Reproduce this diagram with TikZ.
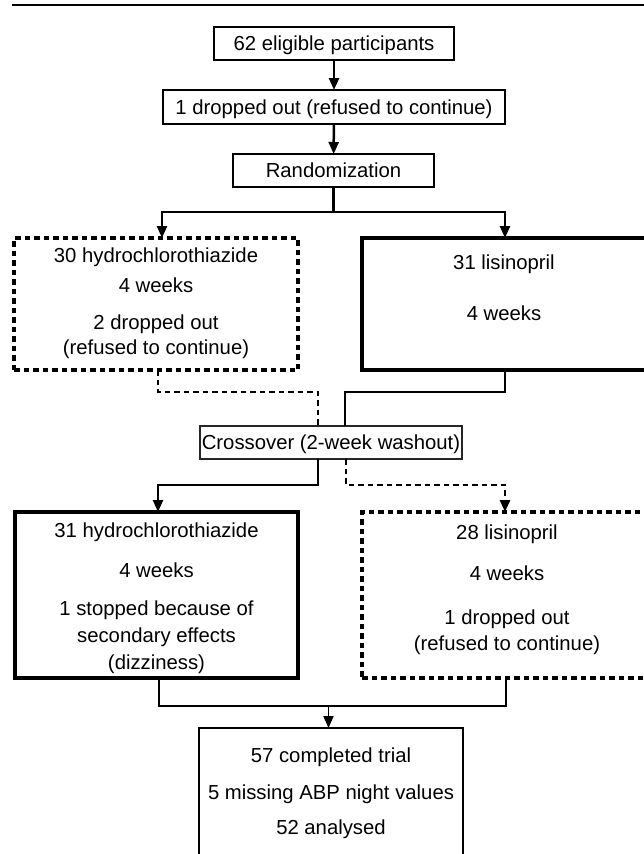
\documentclass[tikz,border=0pt]{standalone}
\usepackage{fontspec}
\setmainfont{Liberation Sans}
\usetikzlibrary{arrows.meta}
\begin{document}
\begin{tikzpicture}[x=1pt,y=-1pt,
  every node/.style={font=\fontsize{20.3}{24}\selectfont},
  box/.style={draw, rectangle, inner sep=0pt, outer sep=0pt, line width=2.3pt},
  thickbox/.style={box, line width=3.2pt},
  dashbox/.style={box, line width=3.2pt, dash pattern=on 5.5pt off 4pt},
  xbox/.style={box, line width=1.5pt, draw=black!85},
  txt/.style={anchor=base, inner sep=0pt},
  conn/.style={line width=2.5pt},
  dconn/.style={line width=2.8pt, dash pattern=on 5.5pt off 4pt},
  thinconn/.style={line width=1.8pt},
  arr/.style={-{Triangle[length=12pt,width=10pt]}}
]
\useasboundingbox (0,0) rectangle (644,854);
\draw[line width=1.8pt] (12,5) -- (644,5);

% boxes
\node[box, minimum width=240pt, minimum height=33pt] (b1) at (334,43.5) {};
\node[box, minimum width=342pt, minimum height=34pt] (b2) at (334,107) {};
\node[box, minimum width=201pt, minimum height=33pt] (b3) at (333.5,170.5) {};
\node[dashbox, minimum width=284pt, minimum height=132pt] (L1) at (156,304) {};
\node[thickbox, minimum width=284pt, minimum height=132pt] (R1) at (504,304) {};
\node[xbox, minimum width=262pt, minimum height=33pt] (X) at (331,442.5) {};
\node[thickbox, minimum width=283pt, minimum height=166pt] (L2) at (156.5,595) {};
\node[dashbox, minimum width=284pt, minimum height=166pt] (R2) at (504,595) {};
\node[box, line width=1.8pt, minimum width=264pt, minimum height=142pt] (B) at (331,799) {};

% texts
\node[txt] (t1) at (334,50.5) {62 eligible participants};
\node[txt] (t2) at (334,114) {1 dropped out (refused to continue)};
\node[txt] (t3) at (333.5,177.5) {Randomization};
\node[txt] (l1a) at (156,262) {30 hydrochlorothiazide};
\node[txt] (l1b) at (156,292) {4 weeks};
\node[txt] (l1c) at (156,329) {2 dropped out};
\node[txt] (l1d) at (156,354) {(refused to continue)};
\node[txt] (r1a) at (504,269) {31 lisinopril};
\node[txt] (r1b) at (504,320) {4 weeks};
\node[txt] (xt) at (331,449.5) {Crossover (2-week washout)};
\node[txt] (l2a) at (156.5,537) {31 hydrochlorothiazide};
\node[txt] (l2b) at (156.5,577) {4 weeks};
\node[txt] (l2c) at (156.5,615) {1 stopped because of};
\node[txt] (l2d) at (156.5,642) {secondary effects};
\node[txt] (l2e) at (156.5,669) {(dizziness)};
\node[txt] (r2a) at (507,539) {28 lisinopril};
\node[txt] (r2b) at (507,580) {4 weeks};
\node[txt] (r2c) at (507,624) {1 dropped out};
\node[txt] (r2d) at (507,650) {(refused to continue)};
\node[txt] (ba) at (331,762) {57 completed trial};
\node[txt] (bb) at (331,799) {5 missing ABP night values};
\node[txt] (bc) at (331,834) {52 analysed};

% top connectors
\draw[conn,arr] (b1) -- (b2);
\draw[conn,arr] (b2) -- (b3);
\coordinate (sp) at (333.5,212);
\coordinate (spL) at (162,212);
\coordinate (spR) at (505,212);
\draw[conn] (b3.south) -- (sp);
\draw[conn,arr] (sp) -- (spL) -- (spL |- L1.north);
\draw[conn,arr] (sp) -- (spR) -- (spR |- R1.north);

% to crossover
\coordinate (d1) at (158,392);
\coordinate (d2) at (318,392);
\draw[dconn] (d1 |- L1.south) -- (d1) -- (d2) -- (d2 |- X.north);
\coordinate (s1) at (505,392);
\coordinate (s2) at (345,392);
\draw[conn] (s1 |- R1.south) -- (s1) -- (s2) -- (s2 |- X.north);

% from crossover
\coordinate (e1) at (318,485);
\coordinate (e2) at (158,485);
\draw[conn,arr] (e1 |- X.south) -- (e1) -- (e2) -- (e2 |- L2.north);
\coordinate (f1) at (346,485);
\coordinate (f2) at (505,485);
\draw[dconn,arr] (f1 |- X.south) -- (f1) -- (f2) -- (f2 |- R2.north);

% merge
\coordinate (m1) at (159,706);
\coordinate (m2) at (506,706);
\coordinate (mc) at (328.5,706);
\draw[thinconn] (m1 |- L2.south) -- (m1) -- (m2) -- (m2 |- R2.south);
\draw[thinconn,arr] (mc) -- (mc |- B.north);
\end{tikzpicture}
\end{document}
